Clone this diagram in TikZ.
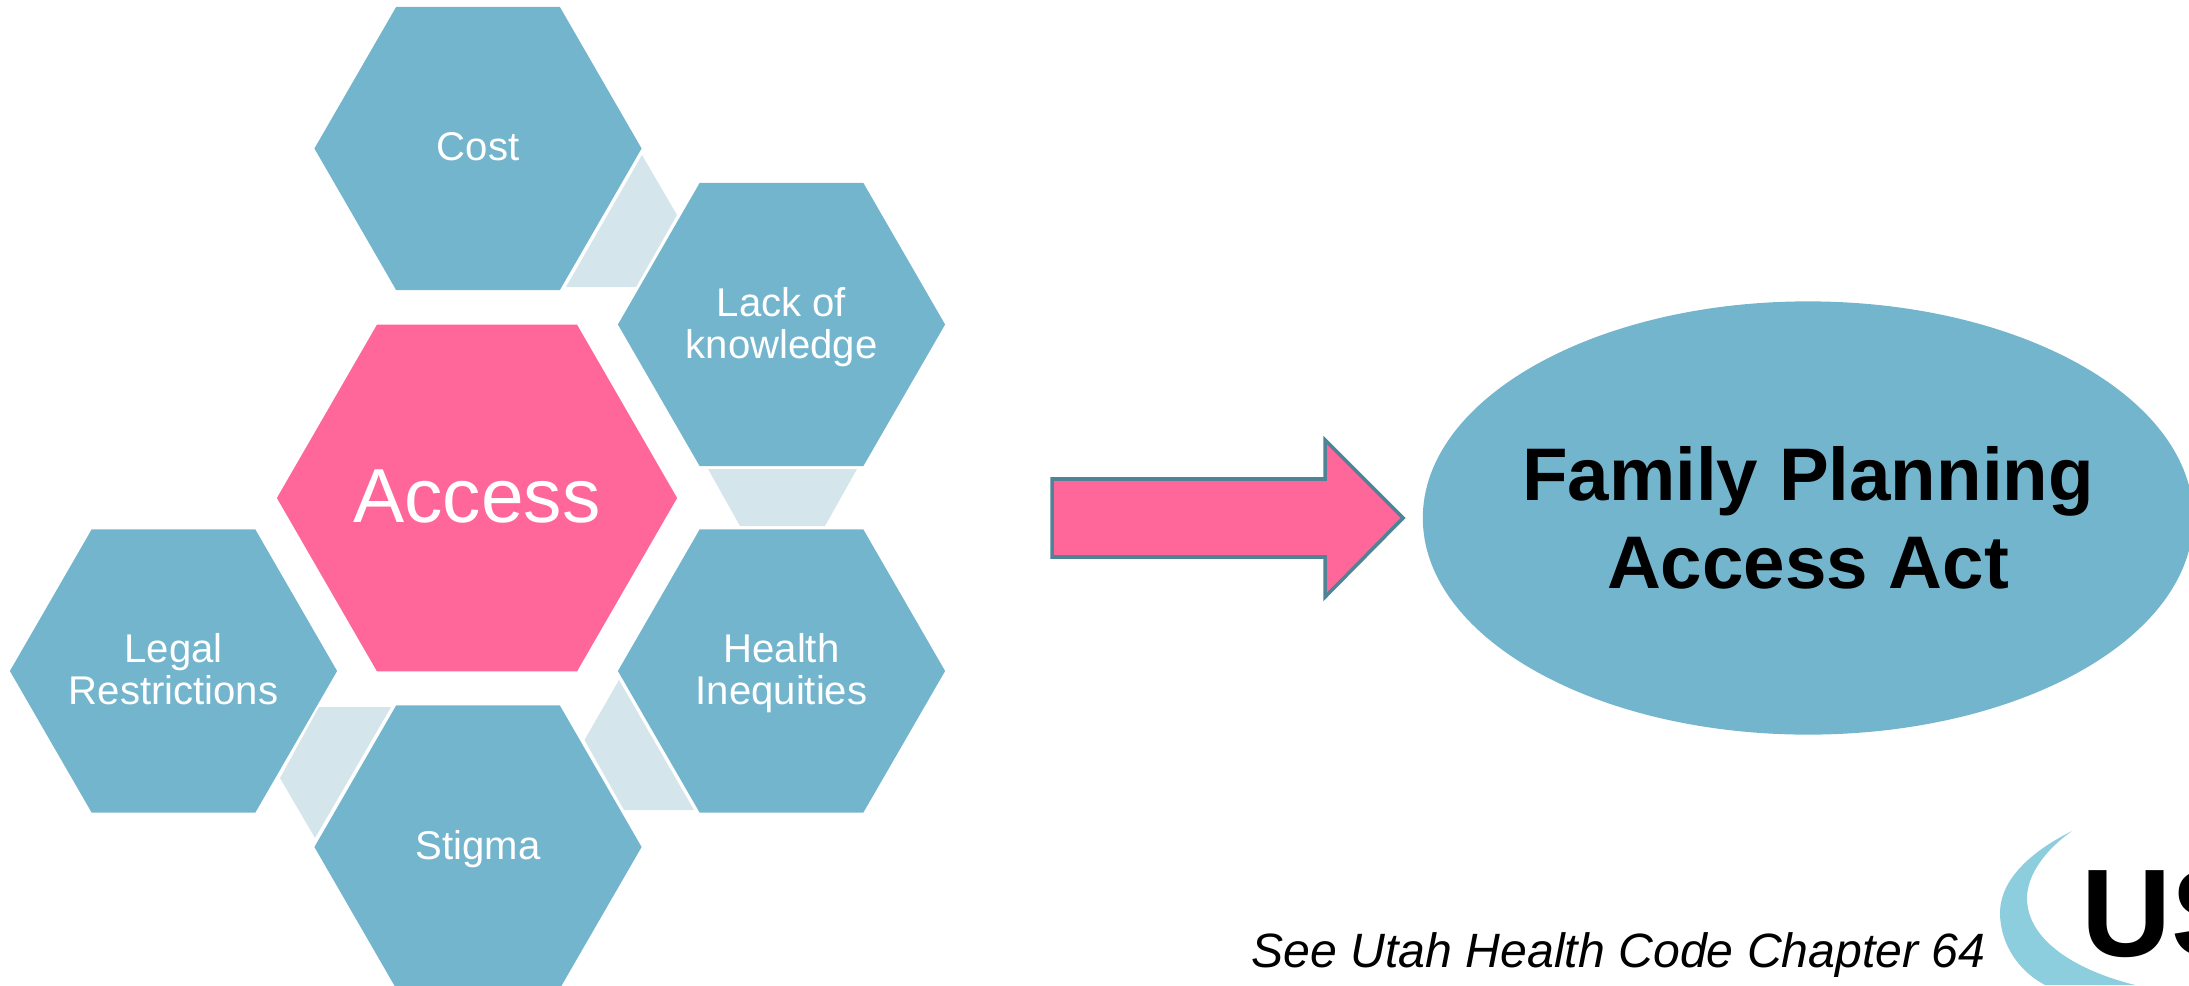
\documentclass[tikz,border=0pt]{standalone}
\usepackage{fontspec}
\setmainfont{Liberation Sans}
\usepackage{xcolor}
\usetikzlibrary{shapes.geometric}

\definecolor{hexblue}{HTML}{74B5CE}
\definecolor{bridgeblue}{HTML}{D4E5EC}
\definecolor{accesspink}{HTML}{FF6699}
\definecolor{arrowedge}{HTML}{4E8496}
\definecolor{swooshblue}{HTML}{8CCDDE}

\tikzset{
	hexnode/.style={regular polygon, regular polygon sides=6, minimum size=3.27cm, inner sep=-0.4cm, outer sep=0pt, fill=hexblue, text=white, align=center, text depth=1pt, font=\fontsize{11.4}{12}\selectfont},
	bridge/.style={fill=bridgeblue}
}

\begin{document}
\begin{tikzpicture}[x=0.01cm, y=-0.01cm]
			\useasboundingbox (0, 0) rectangle (2189, 985);
			\clip (0, 0) rectangle (2189, 985);
			\fill [bridge] (642, 155) -- (677, 215) -- (636, 287) -- (566, 287) -- cycle;
			\fill [bridge] (708, 469) -- (857, 469) -- (825, 526) -- (740, 526) -- cycle;
			\fill [bridge] (619, 680) -- (694, 810) -- (624, 810) -- (584.5, 740) -- cycle;
			\fill [bridge] (319, 707) -- (391, 707) -- (315, 838) -- (280, 778) -- cycle;
			\node [hexnode] (cost) at (478, 148.5) {Cost};
			\node [hexnode] (knowledge) at (781.5, 324.5) {Lack of\\knowledge};
			\node [hexnode] (inequities) at (781.5, 671) {Health\\Inequities};
			\node [hexnode] (stigma) at (478, 847) {Stigma};
			\node [hexnode] (legal) at (173.5, 671) {Legal\\Restrictions};
			\node [hexnode, minimum size=4cm, fill=accesspink, font=\fontsize{21.8}{25}\selectfont] (access) at (477, 498) {Access};
			\draw [arrowedge, line width=1pt, fill=accesspink] (1052, 479) -- (1325, 479) -- (1325, 440) -- (1403, 518) -- (1325, 597) -- (1325, 557) -- (1052, 557) -- cycle;
			\node [ellipse, fill=hexblue, inner sep=0pt, inner xsep=-0.5cm, outer sep=0pt, minimum width=7.7cm, minimum height=4.33cm, align=center, font=\fontsize{21.2}{25}\selectfont\bfseries] (act) at (1808, 518) {Family Planning\\Access Act};
			\node [anchor=base west, inner sep=0pt, font=\fontsize{13.7}{18}\selectfont\itshape] (code) at (1251, 967) {See Utah Health Code Chapter 64};
			\fill [swooshblue] (2072, 831) .. controls (2030, 852) and (2000, 880) .. (2000, 913) .. controls (2000, 945) and (2020, 972) .. (2045, 985) -- (2135, 985) .. controls (2075, 970) and (2027, 940) .. (2027, 898) .. controls (2027, 875) and (2045, 850) .. (2072, 831) -- cycle;
			\node [anchor=base west, inner sep=0pt, font=\fontsize{35.5}{40}\selectfont\bfseries] (logo) at (2081, 956) {US};
		\end{tikzpicture}
\end{document}
